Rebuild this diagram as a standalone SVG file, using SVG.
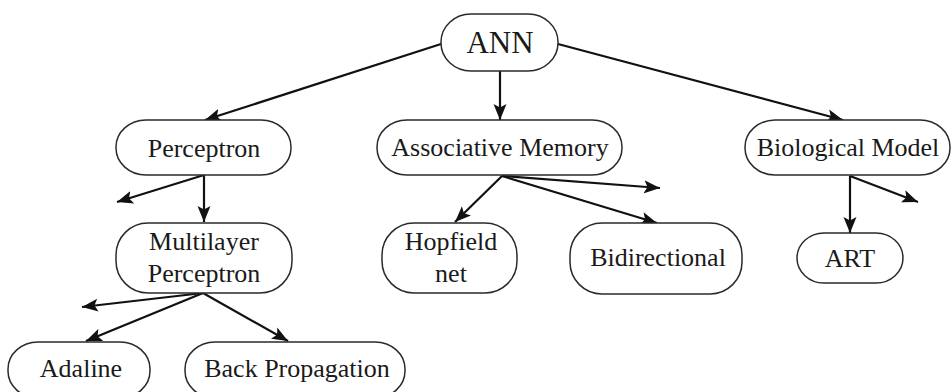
<svg xmlns="http://www.w3.org/2000/svg" width="952" height="392" viewBox="0 0 952 392">
  <defs>
    <marker id="arrow" markerUnits="userSpaceOnUse" markerWidth="18" markerHeight="14" refX="16" refY="7" orient="auto">
      <path d="M0,0.5 L16,7 L0,13.5 L3.5,7 z" fill="#111"/>
    </marker>
    <style>
      .box { fill: #fff; stroke: #2a2a2a; stroke-width: 1.5; }
      .lbl { font-family: "Liberation Serif", "Times New Roman", serif; font-size: 26px; fill: #1a1a1a; text-anchor: middle; }
      .big { font-size: 31px; }
      .edge { stroke: #111; stroke-width: 2.2; fill: none; marker-end: url(#arrow); }
    </style>
  </defs>
  <rect width="952" height="392" fill="#fff"/>

  <!-- connectors: each ends in a filled arrowhead -->
  <g id="edges">
    <line class="edge" x1="441" y1="44" x2="205" y2="120"/>
    <line class="edge" x1="500" y1="71" x2="500" y2="120"/>
    <line class="edge" x1="558" y1="44" x2="843" y2="120"/>
    <line class="edge" x1="204" y1="175" x2="117" y2="202"/>
    <line class="edge" x1="204" y1="175" x2="204" y2="222"/>
    <line class="edge" x1="203" y1="293" x2="82" y2="307"/>
    <line class="edge" x1="203" y1="293" x2="86" y2="341"/>
    <line class="edge" x1="203" y1="293" x2="288" y2="341"/>
    <line class="edge" x1="502" y1="176" x2="455" y2="222"/>
    <line class="edge" x1="502" y1="176" x2="660" y2="188"/>
    <line class="edge" x1="502" y1="176" x2="657" y2="223"/>
    <line class="edge" x1="850" y1="176" x2="850" y2="233"/>
    <line class="edge" x1="850" y1="176" x2="918" y2="202"/>
  </g>

  <g id="ann">
    <rect class="box" x="441" y="14" width="117" height="57" rx="30" ry="28"/>
    <text class="lbl big" x="500" y="53">ANN</text>
  </g>

  <g id="perceptron">
    <rect class="box" x="116" y="120" width="175" height="55" rx="30" ry="27"/>
    <text class="lbl" x="204" y="157">Perceptron</text>
  </g>

  <g id="associative-memory">
    <rect class="box" x="377" y="120" width="245" height="55" rx="30" ry="27"/>
    <text class="lbl" x="500" y="156">Associative Memory</text>
  </g>

  <g id="biological-model">
    <rect class="box" x="745" y="120" width="205" height="55" rx="30" ry="27"/>
    <text class="lbl" x="848" y="156">Biological Model</text>
  </g>

  <g id="multilayer-perceptron">
    <rect class="box" x="116" y="223" width="176" height="70" rx="32" ry="32"/>
    <text class="lbl" x="204" y="250">Multilayer</text>
    <text class="lbl" x="204" y="282">Perceptron</text>
  </g>

  <g id="hopfield-net">
    <rect class="box" x="382" y="223" width="135" height="70" rx="32" ry="32"/>
    <text class="lbl" x="451" y="250">Hopfield</text>
    <text class="lbl" x="451" y="282">net</text>
  </g>

  <g id="bidirectional">
    <rect class="box" x="570" y="223" width="172" height="71" rx="32" ry="32"/>
    <text class="lbl" x="658" y="266">Bidirectional</text>
  </g>

  <g id="art">
    <rect class="box" x="797" y="233" width="106" height="50" rx="27" ry="25"/>
    <text class="lbl" x="850" y="267">ART</text>
  </g>

  <g id="adaline">
    <rect class="box" x="8" y="342" width="142" height="56" rx="30" ry="27"/>
    <text class="lbl" x="81" y="377">Adaline</text>
  </g>

  <g id="back-propagation">
    <rect class="box" x="185" y="342" width="220" height="56" rx="30" ry="27"/>
    <text class="lbl" x="297" y="377">Back Propagation</text>
  </g>
</svg>
